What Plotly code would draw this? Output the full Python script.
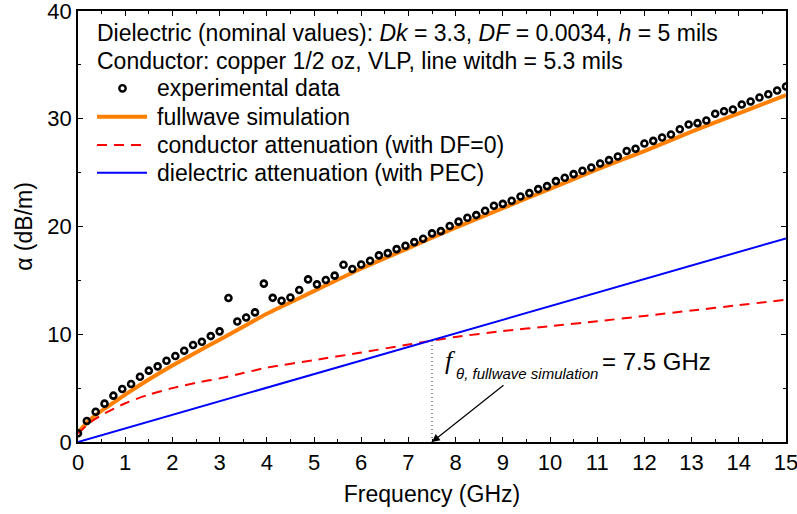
import plotly.graph_objects as go

# ---------------- data ----------------
freq_exp = [round(k * 0.1875, 4) for k in range(81)]
alpha_exp = [0.81, 1.95, 2.81, 3.56, 4.30, 4.92, 5.38, 6.06, 6.62, 7.02,
             7.54, 7.98, 8.47, 9.00, 9.31, 9.83, 10.27, 13.36, 11.19, 11.56,
             12.03, 14.70, 13.38, 13.11, 13.41, 14.10, 15.09, 14.63, 15.03, 15.44,
             16.45, 16.05, 16.48, 16.82, 17.32, 17.53, 17.90, 18.21, 18.55, 18.86,
             19.36, 19.57, 20.05, 20.45, 20.81, 21.06, 21.46, 21.92, 22.10, 22.39,
             22.79, 23.10, 23.47, 23.75, 24.21, 24.52, 24.86, 25.17, 25.48, 25.85,
             26.16, 26.50, 27.00, 27.21, 27.70, 27.95, 28.26, 28.54, 29.03, 29.47,
             29.59, 29.84, 30.46, 30.70, 30.86, 31.32, 31.60, 31.97, 32.28, 32.62,
             33.00]

freq_full = [0, 0.25, 0.5, 0.75, 1, 1.5, 2, 2.5, 3, 3.5, 4, 5, 6, 7, 8, 9,
             10, 11, 12, 13, 14, 15]
alpha_full = [0.9, 2.05, 2.9, 3.65, 4.4, 5.8, 7.1, 8.3, 9.5, 10.7, 11.9, 14.0,
              16.1, 18.0, 19.9, 21.7, 23.5, 25.3, 27.0, 28.8, 30.5, 32.2]

freq_cond = [0, 0.25, 0.5, 1, 1.5, 2, 2.5, 3, 3.5, 4, 5, 6, 7, 8, 9, 10,
             11, 12, 13, 14, 15]
alpha_cond = [0.8, 1.8, 2.5, 3.6, 4.4, 5.0, 5.5, 5.9, 6.4, 6.9, 7.6, 8.3,
              9.05, 9.75, 10.3, 10.75, 11.2, 11.7, 12.2, 12.7, 13.2]

freq_diel = [0, 15]
alpha_diel = [0, 18.9]

f_theta = 7.5
alpha_theta = 9.4

x_ticks = list(range(0, 16))
y_ticks = [0, 10, 20, 30, 40]

names = ["experimental data", "fullwave simulation",
         "conductor attenuation (with DF=0)", "dielectric attenuation (with PEC)"]
colors = {"exp": "black", "full": "#FF8000", "cond": "#FF0000", "diel": "#0000FF"}

FONT = "Arial, Liberation Sans, sans-serif"

# plot-area geometry (px), used only to place free text / legend
W, H = 797, 514
L, R, T, B = 78, 786, 11, 442


def px2x(px):
    return (px - L) / (R - L) * 15


def px2y(py):
    return (B - py) / (B - T) * 40


def pxp(px):
    return (px - L) / (R - L)


def pyp(py):
    return (B - py) / (B - T)


fig = go.Figure()

fig.add_trace(go.Scatter(x=freq_full, y=alpha_full, mode="lines", name=names[1],
                         showlegend=False,
                         line=dict(color=colors["full"], width=4, shape="spline", smoothing=0.6)))
fig.add_trace(go.Scatter(x=freq_cond, y=alpha_cond, mode="lines", name=names[2],
                         showlegend=False,
                         line=dict(color=colors["cond"], width=2, dash="10px,7px",
                                   shape="spline", smoothing=0.6)))
fig.add_trace(go.Scatter(x=freq_diel, y=alpha_diel, mode="lines", name=names[3],
                         showlegend=False,
                         line=dict(color=colors["diel"], width=2)))
fig.add_trace(go.Scatter(x=freq_exp, y=alpha_exp, mode="markers", name=names[0],
                         showlegend=False,
                         marker=dict(symbol="circle-open", size=6, color=colors["exp"],
                                     line=dict(width=2.6, color=colors["exp"]))))

# ---------- legend (drawn in paper coordinates) ----------
rows_py = [88.3, 116.7, 145, 172.7]
sym_x0, sym_x1, text_x = 97, 147, 155
LEG_FONT = dict(family=FONT, size=23, color="black")
for i, nm in enumerate(names):
    fig.add_annotation(x=pxp(text_x), y=pyp(rows_py[i]), xref="paper", yref="paper",
                       text=nm, showarrow=False, xanchor="left", yanchor="middle",
                       font=LEG_FONT)
# circle marker sample
cx, cy, rr = 122.5, rows_py[0], 3.2
fig.add_shape(type="circle", xref="paper", yref="paper",
              x0=pxp(cx - rr), x1=pxp(cx + rr), y0=pyp(cy + rr), y1=pyp(cy - rr),
              line=dict(color=colors["exp"], width=2.4))
fig.add_shape(type="line", xref="paper", yref="paper",
              x0=pxp(sym_x0), x1=pxp(sym_x1), y0=pyp(rows_py[1]), y1=pyp(rows_py[1]),
              line=dict(color=colors["full"], width=4))
fig.add_shape(type="line", xref="paper", yref="paper",
              x0=pxp(sym_x0), x1=pxp(sym_x1), y0=pyp(rows_py[2]), y1=pyp(rows_py[2]),
              line=dict(color=colors["cond"], width=2, dash="10px,7px"))
fig.add_shape(type="line", xref="paper", yref="paper",
              x0=pxp(sym_x0), x1=pxp(sym_x1), y0=pyp(rows_py[3]), y1=pyp(rows_py[3]),
              line=dict(color=colors["diel"], width=2))

# vertical dotted line
fig.add_shape(type="line", xref="x", yref="y", x0=f_theta, x1=f_theta,
              y0=0, y1=alpha_theta, line=dict(color="#333333", width=1, dash="1px,3px"))

# arrow
fig.add_annotation(x=f_theta, y=0, xref="x", yref="y", ax=px2x(505), ay=px2y(384),
                   axref="x", ayref="y", text="", showarrow=True,
                   arrowhead=2, arrowsize=1.3, arrowwidth=1.2, arrowcolor="black")

# f_theta label
fig.add_annotation(x=px2x(443), y=px2y(360), xref="x", yref="y",
                   text="<i>f</i>", showarrow=False, xanchor="left", yanchor="middle",
                   font=dict(family="Liberation Serif, Times New Roman, serif", size=26, color="black"))
fig.add_annotation(x=px2x(454), y=px2y(373), xref="x", yref="y",
                   text="<i>θ, fullwave simulation</i>", showarrow=False,
                   xanchor="left", yanchor="middle",
                   font=dict(family=FONT, size=15, color="black"))
fig.add_annotation(x=px2x(600), y=px2y(361), xref="x", yref="y",
                   text="= 7.5 GHz", showarrow=False, xanchor="left", yanchor="middle",
                   font=dict(family=FONT, size=24, color="black"))

# header text lines
fig.add_annotation(x=pxp(95), y=pyp(33), xref="paper", yref="paper",
                   text="Dielectric (nominal values): <i>Dk</i> = 3.3, <i>DF</i> = 0.0034, <i>h</i> = 5 mils",
                   showarrow=False, xanchor="left", yanchor="middle", font=LEG_FONT)
fig.add_annotation(x=pxp(95), y=pyp(61), xref="paper", yref="paper",
                   text="Conductor: copper 1/2 oz, VLP, line witdh = 5.3 mils",
                   showarrow=False, xanchor="left", yanchor="middle", font=LEG_FONT)

axis_common = dict(showline=True, linecolor="black", linewidth=1.5, mirror="allticks",
                   ticks="inside", ticklen=5, tickwidth=1.2, tickcolor="black",
                   showgrid=False, zeroline=False, automargin=False,
                   ticklabeloverflow="allow",
                   tickfont=dict(family=FONT, size=22, color="black"))

fig.update_xaxes(range=[0, 15], tickvals=x_ticks,
                 minor=dict(ticks="inside", ticklen=3, tickwidth=1.2, tickcolor="black", dtick=0.5),
                 title=dict(text="Frequency (GHz)", font=dict(family=FONT, size=23, color="black"),
                            standoff=12),
                 **axis_common)
fig.update_yaxes(range=[0, 40], tickvals=y_ticks,
                 minor=dict(ticks="inside", ticklen=3, tickwidth=1.2, tickcolor="black", dtick=5),
                 title=dict(text="α (dB/m)", font=dict(family=FONT, size=23, color="black"),
                            standoff=8),
                 **axis_common)

fig.update_layout(
    width=W, height=H,
    margin=dict(l=L, r=W - R, t=T, b=H - B),
    plot_bgcolor="white", paper_bgcolor="white",
    showlegend=False,
)

fig.write_html("out.html", config={"displayModeBar": False},
               post_script="document.body.style.margin='0';document.body.style.overflow='hidden';")
